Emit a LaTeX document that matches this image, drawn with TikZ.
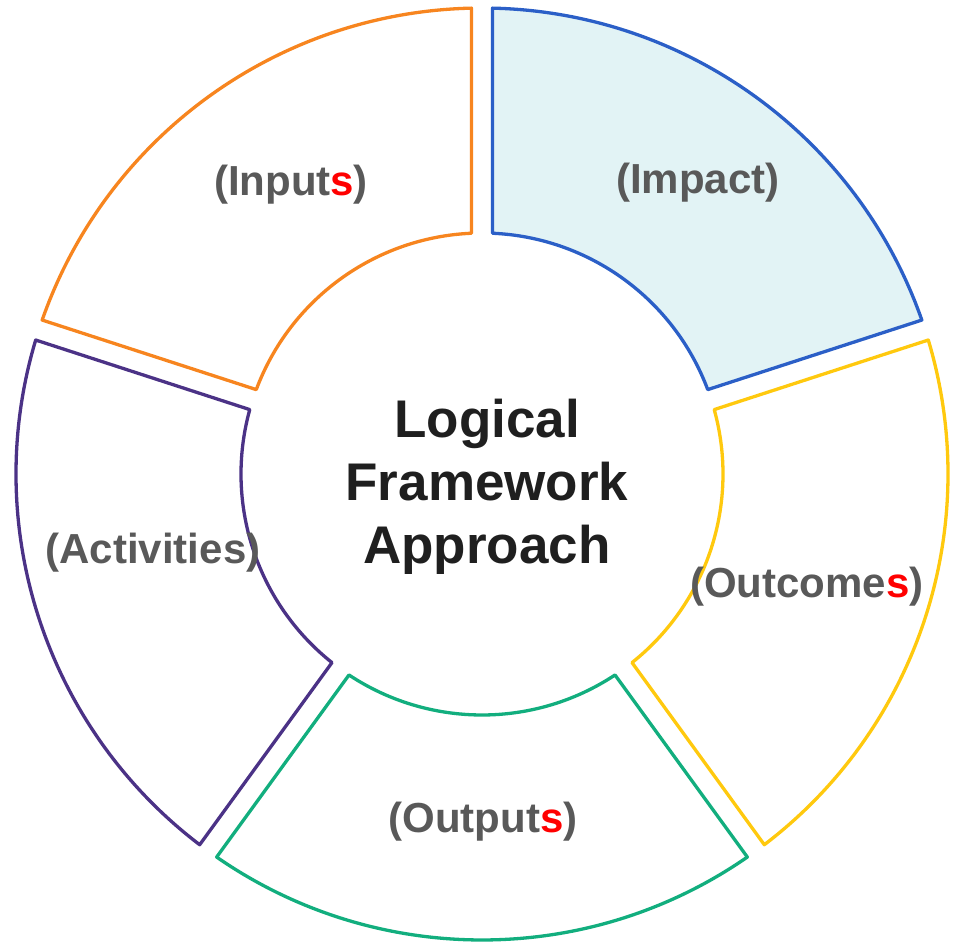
\documentclass[tikz,border=0pt]{standalone}
\usepackage{fontspec}
\setmainfont{Liberation Sans}
\definecolor{inputorange}{HTML}{F7851F}
\definecolor{impactblue}{HTML}{2B5FC7}
\definecolor{impactfill}{HTML}{E2F3F5}
\definecolor{activitypurple}{HTML}{4B3286}
\definecolor{outputgreen}{HTML}{12AE7E}
\definecolor{outcomeyellow}{HTML}{FFC90E}
\definecolor{labelgray}{HTML}{595959}
\definecolor{plural}{HTML}{FF0000}
\tikzset{
  segment/.style={line width=3.3pt, line join=round},
  label/.style={font=\fontsize{42}{48}\selectfont\bfseries, text=labelgray},
  title/.style={font=\fontsize{53}{63}\selectfont\bfseries, text=black!88, align=center}
}
\newcommand{\red}[1]{\textcolor{plural}{#1}}

\begin{document}
\begin{tikzpicture}[x=1pt, y=1pt]
\useasboundingbox (-482,-469) rectangle (475,474);

% ring segments: start/end/colour/fill
\foreach \a/\b/\col/\fil in {18/90/impactblue/impactfill,
    90/162/inputorange/white,
    162/234/activitypurple/white,
    234/306/outputgreen/white,
    306/378/outcomeyellow/white}{
  \draw[segment, draw=\col, fill=\fil]
    (\a+1.29:466) arc[start angle=\a+1.29, end angle=\b-1.29, radius=466]
    -- (\b-2.5:241) arc[start angle=\b-2.5, end angle=\a+2.5, radius=241]
    -- cycle;
}

% segment labels
\node[label] (impact) at (216,291) {(Impact)};
\node[label] (inputs) at (-191,289) {(Input\red{s})};
\node[label] (activities) at (-329,-79) {(Activities)};
\node[label] (outputs) at (1,-348) {(Output\red{s})};
\node[label] (outcomes) at (325,-113) {(Outcome\red{s})};

% centre
\node[title] (lfa) at (5,-13) {Logical\\Framework\\Approach};

\end{tikzpicture}
\end{document}
